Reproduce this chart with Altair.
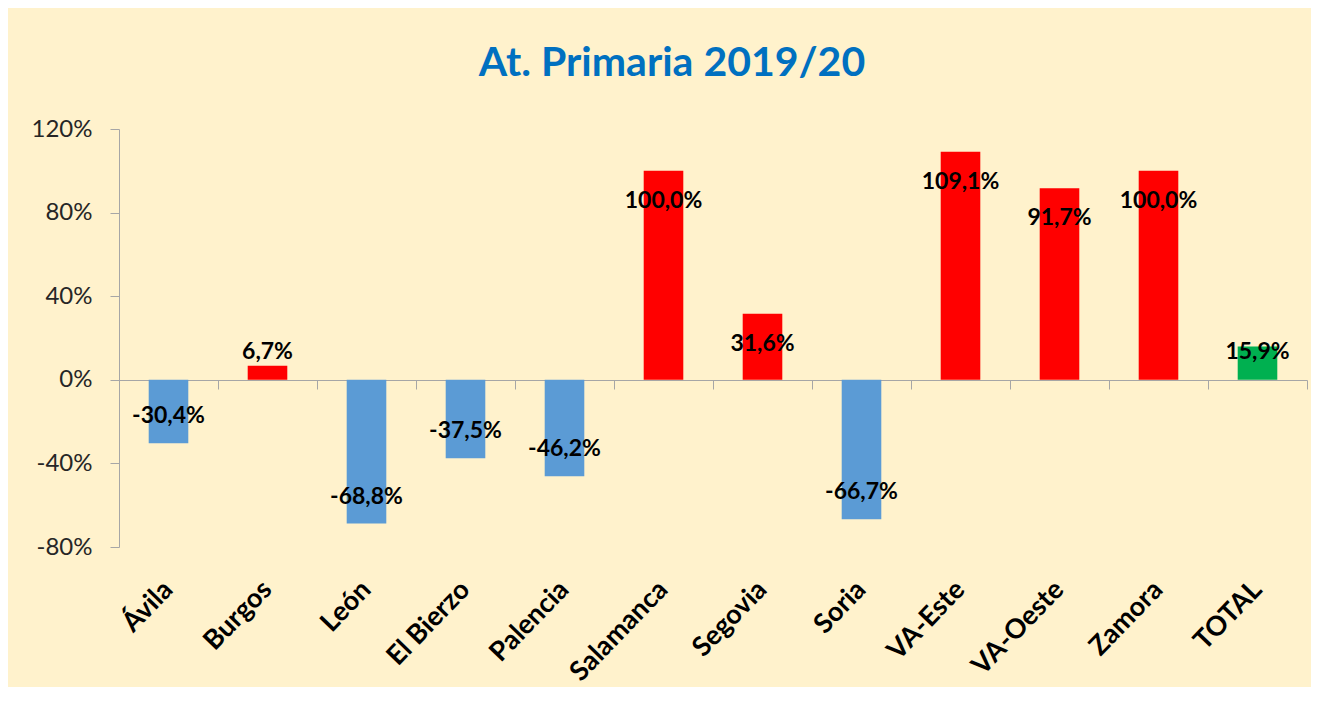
import altair as alt
import pandas as pd

categories = ["Ávila", "Burgos", "León", "El Bierzo", "Palencia", "Salamanca",
              "Segovia", "Soria", "VA-Este", "VA-Oeste", "Zamora", "TOTAL"]
values = [-30.4, 6.7, -68.8, -37.5, -46.2, 100.0, 31.6, -66.7, 109.1, 91.7, 100.0, 15.9]
y_ticks = [-80, -40, 0, 40, 80, 120]
group_names = ["neg", "pos", "total"]
group_colors = ["#5B9BD5", "#FF0000", "#00B050"]

df = pd.DataFrame({"cat": categories, "value": values})

FONT = "Lato"

base = alt.Chart(df).transform_calculate(
    grp="datum.cat == 'TOTAL' ? 'total' : (datum.value < 0 ? 'neg' : 'pos')",
    label="(datum.value < 0 ? '-' : '') + replace(format(abs(datum.value), '.1f'), '.', ',') + '%'",
    lpos="datum.value >= 0 ? max(datum.value - 14.4, 13.4) : min(datum.value + 12.9, -13.4)",
)

xscale = alt.Scale(domain=categories, paddingInner=0, paddingOuter=0)
yscale = alt.Scale(domain=[-80, 120], nice=False, zero=False)

bars = base.mark_bar(width=alt.RelativeBandSize(0.4)).encode(
    x=alt.X("cat:N", scale=xscale, sort=categories,
            axis=alt.Axis(title=None, orient="bottom", domain=False, ticks=False,
                          labelAngle=-46, labelAlign="right", labelBaseline="middle",
                          labelFont=FONT, labelFontSize=27, labelFontWeight="bold",
                          labelColor="#000000", labelPadding=38,
                          minExtent=0, maxExtent=0)),
    y=alt.Y("value:Q", scale=yscale,
            axis=alt.Axis(title=None, values=y_ticks, labelExpr="datum.value + '%'",
                          grid=False, domainColor="#A6A6A6", tickColor="#A6A6A6",
                          tickSize=9, labelPadding=18, labelFont=FONT,
                          labelFontSize=24, labelColor="#262626")),
    color=alt.Color("grp:N", scale=alt.Scale(domain=group_names, range=group_colors),
                    legend=None),
)

texts = base.mark_text(font=FONT, fontSize=23, fontWeight="bold", color="#000000").encode(
    x=alt.X("cat:N", scale=xscale, sort=categories,
            axis=alt.Axis(title=None, orient="bottom", labels=False, domain=True,
                          ticks=True, tickBand="extent", tickSize=9, offset=-167,
                          domainColor="#A6A6A6", tickColor="#A6A6A6")),
    y=alt.Y("lpos:Q", scale=yscale),
    text="label:N",
)

chart = alt.layer(bars, texts).resolve_axis(x="independent").properties(
    width=1188,
    height=418,
    autosize=alt.AutoSizeParams(type="none"),
    padding={"left": 111, "top": 121, "right": 4, "bottom": 140},
    background="#FFF2CC",
    title=alt.TitleParams("At. Primaria 2019/20", font=FONT, fontSize=41,
                          fontWeight="bold", color="#0070C0", anchor="middle",
                          dx=-41, offset=32),
).configure_view(stroke=None)

chart.save("out.html", embed_options={"renderer": "svg", "actions": False})
